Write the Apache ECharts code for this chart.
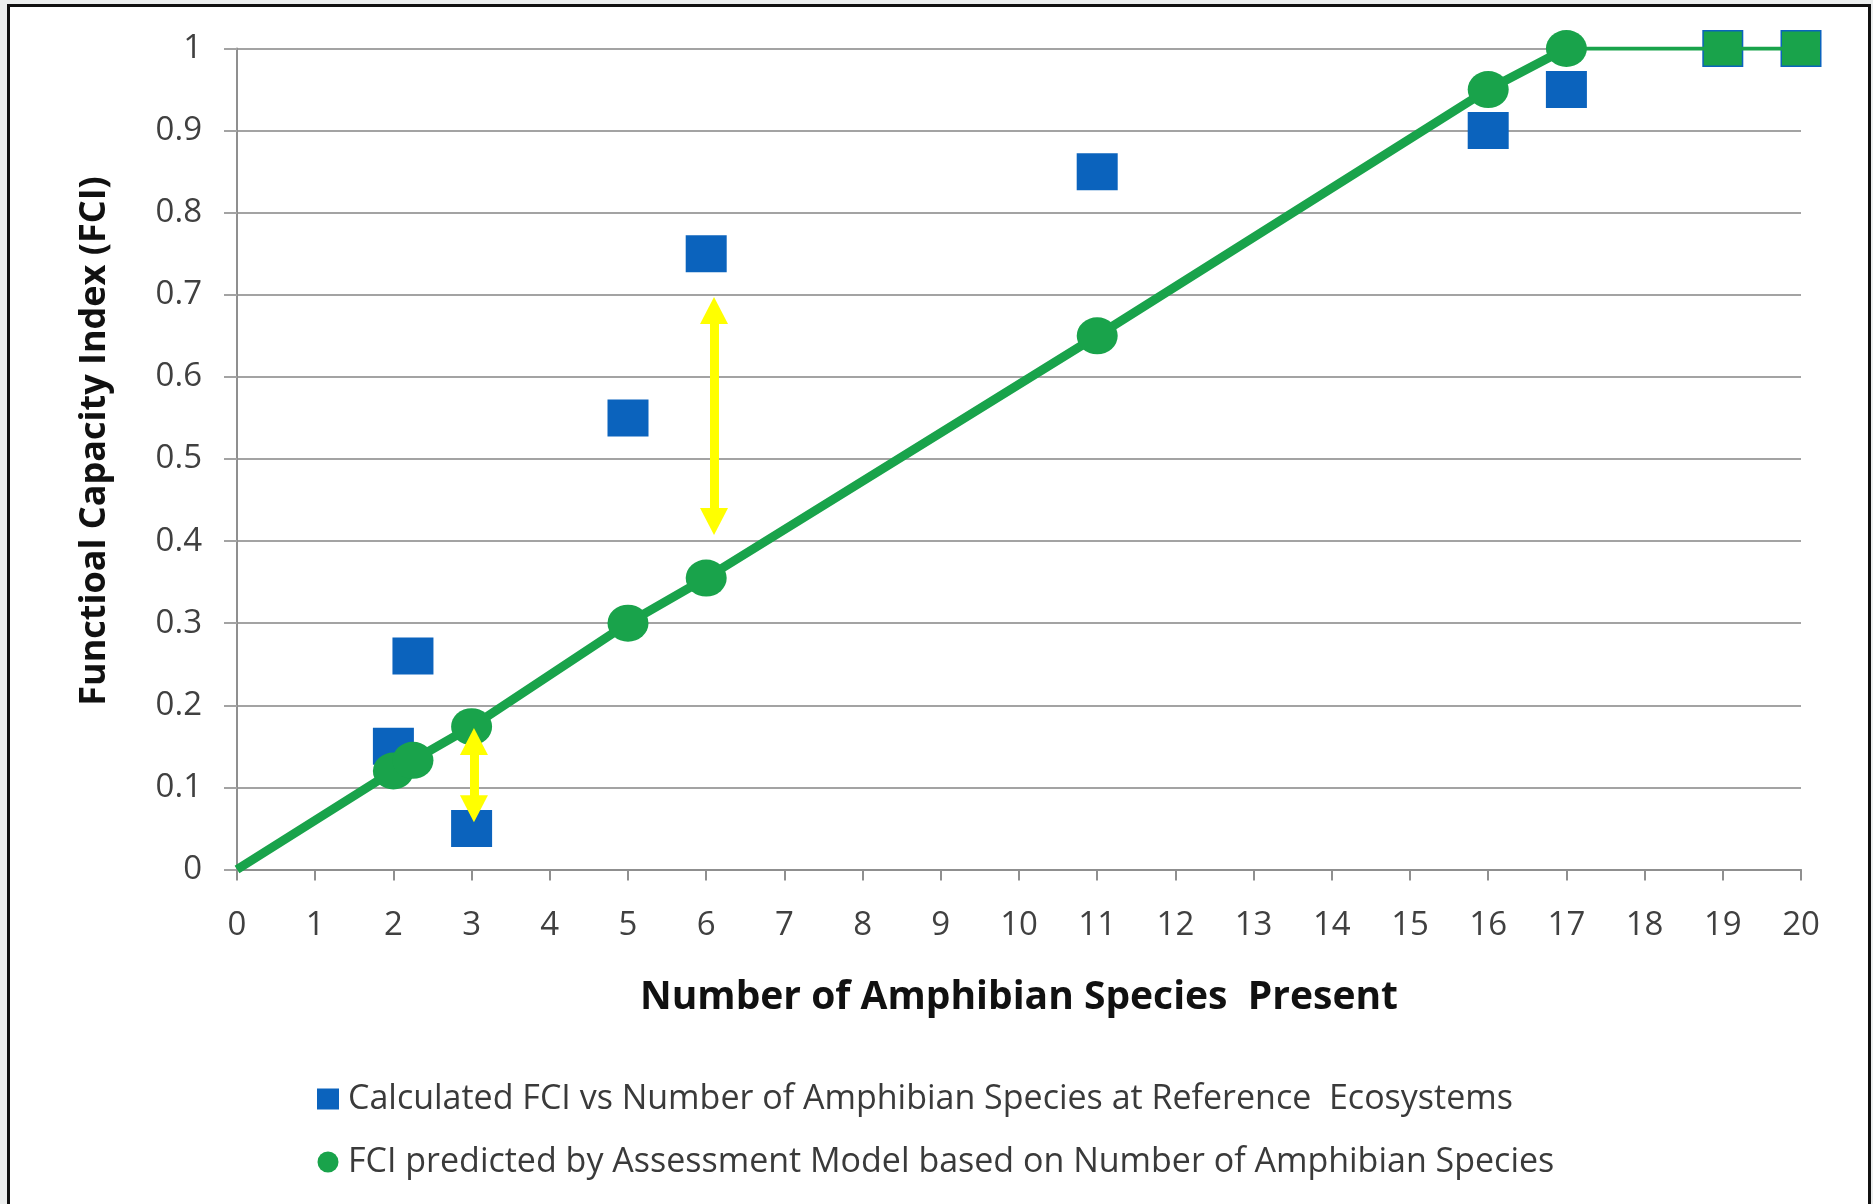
<!DOCTYPE html>
<html>
<head>
<meta charset="utf-8">
<script src="https://cdn.jsdelivr.net/npm/echarts@6/dist/echarts.min.js"></script>
<style>
  html, body { margin: 0; padding: 0; width: 1873px; height: 1204px; overflow: hidden; background: #eceeee; }
  #frame { position: absolute; left: 7px; top: 4px; width: 1858px; height: 1300px; border: 3px solid #111; background: #fff; }
  #chart { position: absolute; left: 0; top: 0; width: 1873px; height: 1204px; }
</style>
</head>
<body>
<div id="frame"></div>
<div id="chart"></div>
<script>
// ---- data ----
const seriesNames = [
  'Calculated FCI vs Number of Amphibian Species at Reference  Ecosystems',
  'FCI predicted by Assessment Model based on Number of Amphibian Species'
];
const xTickLabels = ['0','1','2','3','4','5','6','7','8','9','10','11','12','13','14','15','16','17','18','19','20'];
const yTickLabels = ['0','0.1','0.2','0.3','0.4','0.5','0.6','0.7','0.8','0.9','1'];

// Calculated FCI (blue squares)
const calcX = [2, 2.25, 3, 5, 6, 11, 16, 17, 19, 20];
const calcY = [0.15, 0.26, 0.05, 0.55, 0.75, 0.85, 0.90, 0.95, 1.0, 1.0];

// Model prediction (green line with circles)
const modelX = [0, 2, 2.25, 3, 5, 6, 11, 16, 17];
const modelY = [0, 0.12, 0.133, 0.174, 0.30, 0.355, 0.65, 0.95, 1.0];

// Plateau of the model (thin green line, square markers)
const plateauX = [17, 19, 20];
const plateauY = [1.0, 1.0, 1.0];

// Yellow double arrows (x, from y, to y) – arrow-head centres
const arrowX = [6.1, 3.03];
const arrowFromY = [0.681, 0.156];
const arrowToY = [0.424, 0.074];

// ---- build ----
const BLUE = '#0b63bd';
const GREEN = '#19a34b';
const FONT = 'Open Sans';

const calcData = calcX.map((x, i) => [x, calcY[i]]);
const modelData = modelX.map((x, i) => ({
  value: [x, modelY[i]],
  symbol: i === 0 ? 'none' : 'circle'
}));
const plateauData = plateauX.map((x, i) => ({
  value: [x, plateauY[i]],
  symbol: i === 0 ? 'none' : 'rect'
}));
const arrowData = arrowX.map((x, i) => [
  { coord: [x, arrowFromY[i]] },
  { coord: [x, arrowToY[i]] }
]);

const chart = echarts.init(document.getElementById('chart'), null, { renderer: 'canvas' });
chart.setOption({
  backgroundColor: 'transparent',
  animation: false,
  grid: { left: 237, right: 72, top: 48.5, bottom: 334.5, containLabel: false },
  xAxis: {
    type: 'value', min: 0, max: 20, interval: 1,
    name: 'Number of Amphibian Species  Present',
    nameLocation: 'middle', nameGap: 109,
    nameTextStyle: { fontFamily: FONT, fontWeight: 'bold', fontSize: 39, color: '#111' },
    axisLine: { show: true, lineStyle: { color: '#8f8f8f', width: 2 } },
    axisTick: { show: true, length: 11, lineStyle: { color: '#8f8f8f', width: 2 } },
    axisLabel: {
      margin: 40, fontFamily: FONT, fontSize: 33, color: '#404040',
      formatter: v => xTickLabels[Math.round(v)]
    },
    splitLine: { show: false }
  },
  yAxis: {
    type: 'value', min: 0, max: 1, interval: 0.1,
    name: 'Functioal Capacity Index (FCI)',
    nameLocation: 'middle', nameGap: 124, nameRotate: 90,
    nameTextStyle: { fontFamily: FONT, fontWeight: 'bold', fontSize: 36, color: '#111', padding: [0, 0, 0, 36] },
    axisLine: { show: true, lineStyle: { color: '#8f8f8f', width: 2 } },
    axisTick: { show: true, length: 13, lineStyle: { color: '#a3a3a3', width: 2 } },
    axisLabel: {
      margin: 35, fontFamily: FONT, fontSize: 33, color: '#404040',
      formatter: v => yTickLabels[Math.round(v * 10)]
    },
    splitLine: { show: true, lineStyle: { color: '#a3a3a3', width: 2 } }
  },
  legend: {
    orient: 'vertical', left: 312, top: 1076,
    itemWidth: 22, itemHeight: 21, itemGap: 27,
    textStyle: { fontFamily: FONT, fontSize: 34, color: '#3a3a3a', lineHeight: 36, padding: [0, 0, 0, 4] },
    data: [
      { name: seriesNames[0], icon: 'rect' },
      { name: seriesNames[1], icon: 'circle' }
    ],
    selectedMode: false
  },
  series: [
    {
      name: seriesNames[0], type: 'scatter', z: 2,
      symbol: 'rect', symbolSize: [41, 37],
      itemStyle: { color: BLUE, opacity: 1 },
      data: calcData,
      markLine: {
        silent: true, z: 6,
        symbol: ['triangle', 'triangle'], symbolSize: [28, 27],
        lineStyle: { color: '#ffff00', width: 9, type: 'solid', opacity: 1 },
        itemStyle: { color: '#ffff00' },
        label: { show: false },
        emphasis: { disabled: true },
        data: arrowData
      }
    },
    {
      name: seriesNames[1], type: 'line', z: 3,
      symbol: 'circle', symbolSize: [41, 37], showSymbol: true,
      lineStyle: { color: GREEN, width: 9 },
      itemStyle: { color: GREEN, opacity: 1 },
      data: modelData
    },
    {
      name: 'plateau', type: 'line', z: 3,
      symbol: 'rect', symbolSize: [38, 34],
      lineStyle: { color: GREEN, width: 4 },
      itemStyle: { color: GREEN, opacity: 1 },
      data: plateauData
    }
  ]
});
</script>
</body>
</html>
